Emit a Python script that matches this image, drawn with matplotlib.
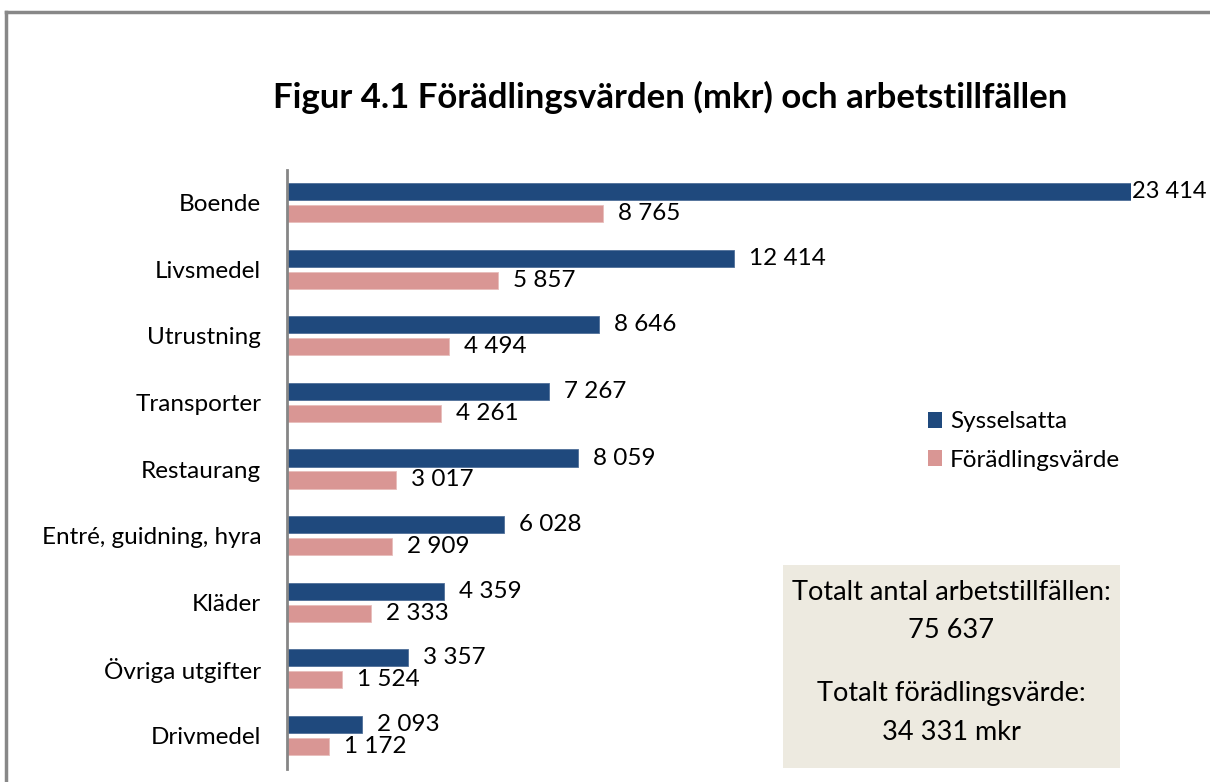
import matplotlib
matplotlib.use("Agg")
import matplotlib.pyplot as plt
from matplotlib.lines import Line2D
from matplotlib.patches import Rectangle, Patch
import numpy as np

categories = ["Boende", "Livsmedel", "Utrustning", "Transporter", "Restaurang",
              "Entré, guidning, hyra", "Kläder", "Övriga utgifter", "Drivmedel"]
sysselsatta = [23414, 12414, 8646, 7267, 8059, 6028, 4359, 3357, 2093]
foradling = [8765, 5857, 4494, 4261, 3017, 2909, 2333, 1524, 1172]
series_names = ["Sysselsatta", "Förädlingsvärde"]
title = "Figur 4.1 Förädlingsvärden (mkr) och arbetstillfällen"
box_lines = ["Totalt antal arbetstillfällen:", "75 637", "Totalt förädlingsvärde:", "34 331 mkr"]

BLUE = "#1F497D"
PINK = "#D99694"
FONT = "Lato"

plt.rcParams['font.family'] = [FONT, 'DejaVu Sans']

W, H = 1210, 782
fig = plt.figure(figsize=(W / 100, H / 100), dpi=100)

def fx(px):
    return px / W

def fy(py):
    return 1 - py / H

# axes
ax_left, ax_right, ax_top, ax_bot = 287, 1131, 169.5, 768.5
ax = fig.add_axes([fx(ax_left), fy(ax_bot), fx(ax_right - ax_left), (ax_bot - ax_top) / H])
ax.set_xlim(0, max(sysselsatta))
n = len(categories)
ax.set_ylim(n - 0.5, -0.5)

y = np.arange(n)
h = 0.256
off = 0.165
ax.barh(y - off, sysselsatta, height=h, color=BLUE, edgecolor="#4F6F99", linewidth=0.6)
ax.barh(y + off, foradling, height=h, color=PINK, edgecolor="#E8BDBB", linewidth=0.6)

def fmt(v):
    return f"{v:,}".replace(",", " ")

vmax = max(sysselsatta)
for yi, v in zip(y, sysselsatta):
    ax.annotate(fmt(v), (v, yi - off), xytext=(15 if v < vmax else 1, 0), textcoords="offset pixels",
                va="center", ha="left", fontsize=17.5 if v < vmax else 17, annotation_clip=False)
for yi, v in zip(y, foradling):
    ax.annotate(fmt(v), (v, yi + off), xytext=(15, 0), textcoords="offset pixels",
                va="center", ha="left", fontsize=17.5, annotation_clip=False)

ax.set_yticks(y)
ax.set_yticklabels(categories, fontsize=17.5)
ax.tick_params(axis="y", length=0, pad=18.5)
ax.set_xticks([])
for s in ["top", "right", "bottom"]:
    ax.spines[s].set_visible(False)
ax.spines["left"].set_color("#868686")
ax.spines["left"].set_linewidth(2)
ax.patch.set_visible(False)

# title
fig.text(fx(670), fy(97), title, ha="center", va="center", fontsize=25, fontweight="bold")

# legend
handles = [Patch(facecolor=BLUE), Patch(facecolor=PINK)]
fig.legend(handles, series_names, loc="center left", bbox_to_anchor=(fx(906), fy(441)),
           frameon=False, fontsize=17.5, handlelength=0.6, handleheight=0.6,
           handletextpad=0.3, labelspacing=0.7)

# text box
fig.patches.append(Rectangle((fx(783), fy(768)), fx(1120 - 783), (768 - 565) / H,
                             transform=fig.transFigure, facecolor="#EDEAE0", edgecolor="none", zorder=0))
for txt, py in zip(box_lines, [593, 631, 694, 733]):
    fig.text(fx(951.5), fy(py), txt, ha="center", va="center", fontsize=19.5)

# outer frame (top and left visible)
fig.add_artist(Line2D([fx(6), 1.01], [fy(12), fy(12)], color="#888888", lw=2.5, transform=fig.transFigure))
fig.add_artist(Line2D([fx(6), fx(6)], [fy(12), -0.01], color="#888888", lw=2.5, transform=fig.transFigure))

fig.savefig("out.png", dpi=100)
